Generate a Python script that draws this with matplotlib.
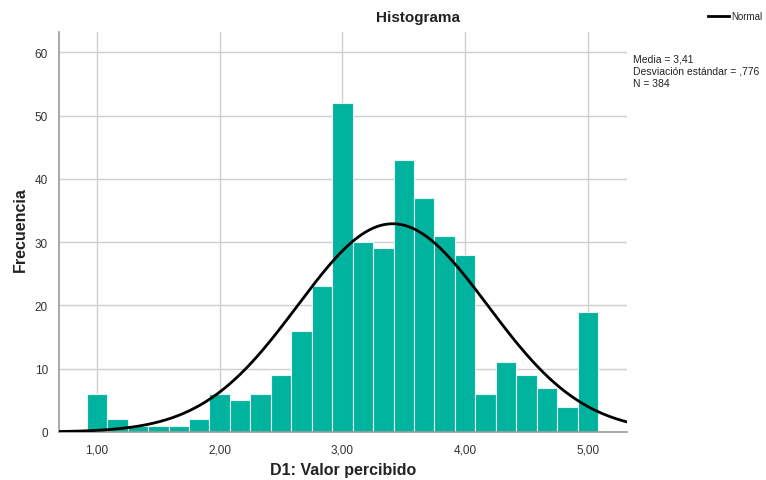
import numpy as np
import matplotlib
matplotlib.use("Agg")
import matplotlib.pyplot as plt

plt.rcParams['font.family'] = ['Liberation Sans', 'DejaVu Sans']

# Data
bin_centers = [1 + i / 6 for i in range(25)]
counts = [6, 2, 1, 1, 1, 2, 6, 5, 6, 9, 16, 23, 52, 30, 29, 43, 37, 31, 28, 6, 11, 9, 7, 4, 19]
mean = 3.41
std = 0.776
n = 384
bin_width = 1 / 6
x_ticks = [1, 2, 3, 4, 5]
x_tick_labels = ["1,00", "2,00", "3,00", "4,00", "5,00"]
y_ticks = [0, 10, 20, 30, 40, 50, 60]

fig = plt.figure(figsize=(7.66, 4.81), dpi=100)
ax = fig.add_axes([59/766, 1 - 433/481, (627 - 59)/766, (433 - 33)/481])

ax.bar(bin_centers, counts, width=bin_width, color='#00b39f', edgecolor='#e6f5f2',
       linewidth=0.8, zorder=2)

xmin, xmax = 0.69, 5.32
xs = np.linspace(xmin, xmax, 400)
ys = n * bin_width * np.exp(-0.5 * ((xs - mean) / std) ** 2) / (std * np.sqrt(2 * np.pi))
ax.plot(xs, ys, color='black', linewidth=2, zorder=3)

ax.set_xlim(xmin, xmax)
ax.set_ylim(0, 63.2)
ax.set_xticks(x_ticks)
ax.set_xticklabels(x_tick_labels)
ax.set_yticks(y_ticks)
ax.grid(True, color='#cfcfcf', linewidth=1, zorder=0)
ax.set_axisbelow(True)
for s in ['top', 'right']:
    ax.spines[s].set_visible(False)
for s in ['left', 'bottom']:
    ax.spines[s].set_color('#9a9a9a')
    ax.spines[s].set_linewidth(1.2)
ax.tick_params(length=0, labelsize=8.5, labelcolor='#333333', pad=8)

fig.text(418/766, 1 - 18/481, "Histograma", ha='center', va='center',
         fontsize=11, fontweight='bold', color='#222222')
fig.text(343/766, 1 - 471/481, "D1: Valor percibido", ha='center', va='center',
         fontsize=11.5, fontweight='bold', color='#222222')
fig.text(20/766, 1 - 230/481, "Frecuencia", ha='center', va='center', rotation=90,
         fontsize=11.5, fontweight='bold', color='#222222')

# Legend
fig.add_artist(plt.Line2D([708/766, 729/766], [1 - 17/481, 1 - 17/481],
                          color='black', linewidth=2))
fig.text(731/766, 1 - 17/481, "Normal", ha='left', va='center', fontsize=7, color='#222222')
fig.text(633/766, 1 - 54/481, "Media = 3,41\nDesviación estándar = ,776\nN = 384",
         ha='left', va='top', fontsize=7.5, color='#222222', linespacing=1.3)

fig.savefig("out.png", dpi=100)
